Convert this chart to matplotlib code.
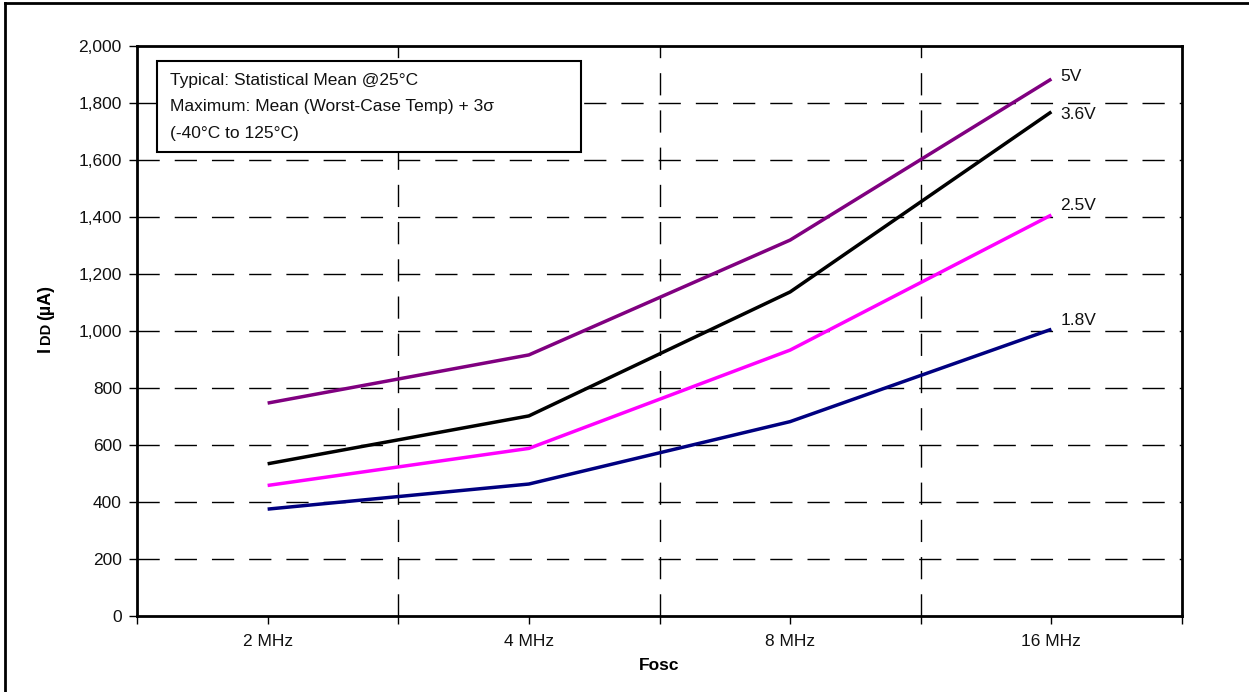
import matplotlib
matplotlib.use("Agg")
import matplotlib.pyplot as plt
from matplotlib.patches import Rectangle
from matplotlib.lines import Line2D
from matplotlib.ticker import MultipleLocator, FixedLocator, FuncFormatter

plt.rcParams['font.family'] = ['Liberation Sans', 'DejaVu Sans']

# ---- data ----
freqs = ["2 MHz", "4 MHz", "8 MHz", "16 MHz"]
v5 = [746, 915, 1318, 1883]
v36 = [533, 701, 1136, 1768]
v25 = [457, 587, 932, 1406]
v18 = [374, 462, 681, 1005]
series_labels = ["5V", "3.6V", "2.5V", "1.8V"]
note_lines = ["Typical: Statistical Mean @25°C",
              "Maximum: Mean (Worst-Case Temp) + 3σ",
              "(-40°C to 125°C)"]

colors = ["#800080", "#000000", "#FF00FF", "#000080"]
label_dy = [3, -3, 9, 9]  # pixel offsets for end labels

FS = 12.5
W, H = 1249, 692
fig = plt.figure(figsize=(W / 100, H / 100), dpi=100)
fig.patch.set_facecolor("white")

def fx(px):
    return px / W

def fy(py):
    return 1 - py / H

L, R, T, B = 137, 1182, 45.7, 615.7
ax = fig.add_axes([fx(L), fy(B), fx(R) - fx(L), fy(T) - fy(B)])

x = list(range(len(freqs)))
for vals, c in zip([v5, v36, v25, v18], colors):
    ax.plot(x, vals, color=c, lw=2.5, solid_capstyle='butt', zorder=3)

for vals, lab, dy in zip([v5, v36, v25, v18], series_labels, label_dy):
    ax.annotate(lab, (x[-1], vals[-1]), xytext=(9, dy), textcoords='offset pixels',
                ha='left', va='center', fontsize=FS, color='#111111')

ax.set_xlim(-0.5, len(freqs) - 0.5)
ax.set_ylim(0, 2000)

ax.xaxis.set_major_locator(FixedLocator(x))
ax.set_xticklabels(freqs)
ax.xaxis.set_minor_locator(FixedLocator([i - 0.5 for i in range(len(freqs) + 1)]))
ax.yaxis.set_major_locator(MultipleLocator(200))
ax.yaxis.set_major_formatter(FuncFormatter(lambda v, p: f"{int(v):,}"))

ax.tick_params(axis='both', which='both', direction='out', length=6, width=1, color='black')
ax.tick_params(axis='x', which='major', pad=7, labelsize=FS, labelcolor='#111111')
ax.tick_params(axis='y', which='major', pad=5, labelsize=FS, labelcolor='#111111')

for s in ax.spines.values():
    s.set_linewidth(2)
    s.set_color('black')

# grid
for yv in range(200, 2000, 200):
    ax.axhline(yv, color='black', lw=1, dashes=(16, 10.8), zorder=1)
for xv in [i + 0.5 for i in range(len(freqs) - 1)]:
    ax.axvline(xv, color='black', lw=1, dashes=(16, 10.8), zorder=1)

ax.set_xlabel("Fosc", fontsize=FS, fontweight='bold', labelpad=7)

# y label: I + small DD + (µA)
yl_x = fx(50)
fig.text(yl_x, fy(352.5), "I", rotation=90, rotation_mode='anchor', ha='left', va='baseline',
         fontsize=13, fontweight='bold')
fig.text(yl_x, fy(343.5), "DD", rotation=90, rotation_mode='anchor', ha='left', va='baseline',
         fontsize=10.5, fontweight='bold')
fig.text(yl_x, fy(320), "(µA)", rotation=90, rotation_mode='anchor', ha='left', va='baseline',
         fontsize=13, fontweight='bold')

# note box
fig.patches.append(Rectangle((fx(157), fy(152)), fx(581) - fx(157), fy(61) - fy(152),
                             transform=fig.transFigure, fill=True, facecolor='white',
                             edgecolor='black', lw=1.5, zorder=5))
for i, line in enumerate(note_lines):
    fig.text(fx(170), fy(80.5 + 26.5 * i), line, ha='left', va='center', fontsize=FS,
             color='#111111', zorder=6)

# outer border (left and top)
fig.add_artist(Line2D([fx(5), fx(5)], [fy(3), 0], color='black', lw=2, transform=fig.transFigure))
fig.add_artist(Line2D([fx(5), 1], [fy(3), fy(3)], color='black', lw=2, transform=fig.transFigure))

fig.savefig("out.png", dpi=100, facecolor='white')
